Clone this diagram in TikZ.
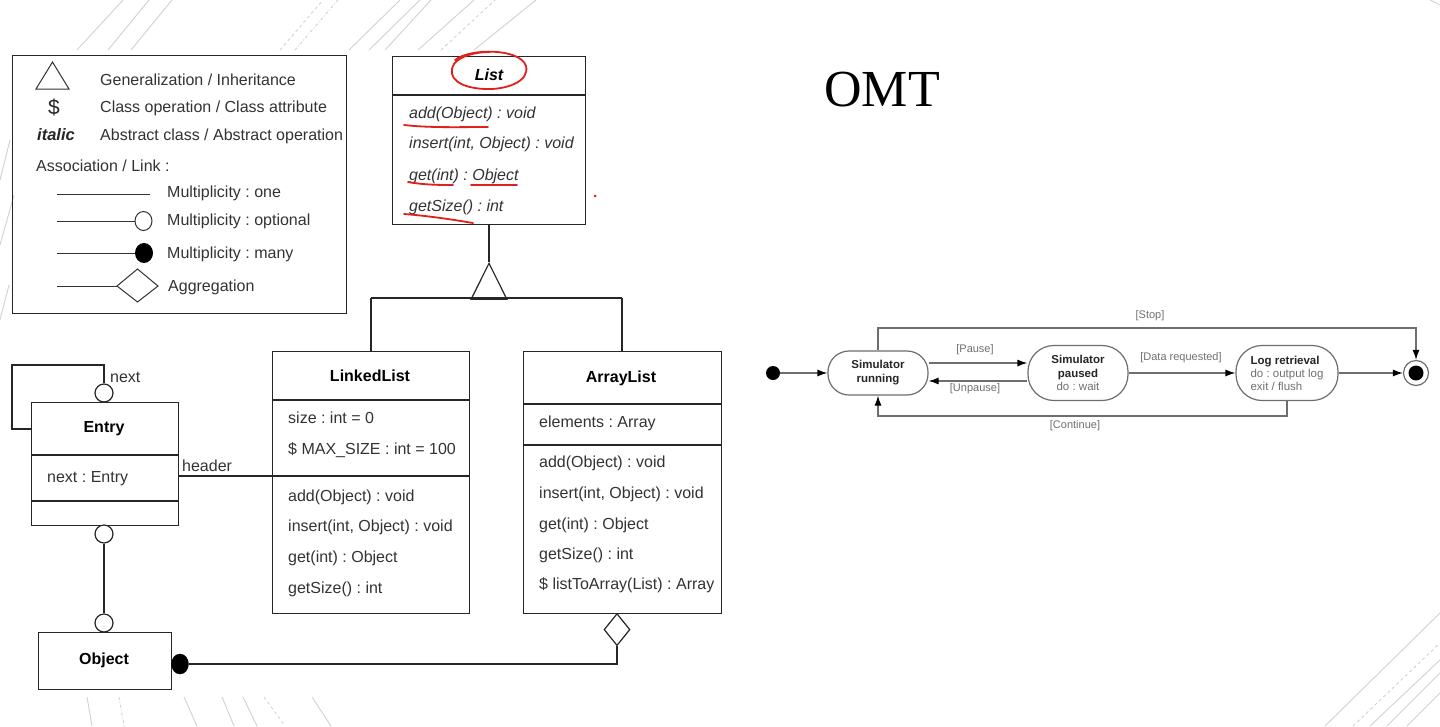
\documentclass[tikz,border=0pt]{standalone}
\usepackage{fontspec}
\setmainfont{Liberation Sans}
\newfontfamily\omtfont{Liberation Serif}
\usetikzlibrary{arrows.meta,shapes.geometric}
\definecolor{annot}{HTML}{E0201C}
\definecolor{stline}{HTML}{6E6E6E}
\definecolor{sttext}{HTML}{707070}
\frenchspacing
\begin{document}
\begin{tikzpicture}[x=1pt,y=-1pt,
  uml/.style={draw=black!85, line width=1.2pt},
  box/.style={draw=black!85, line width=1.2pt, inner sep=0pt, anchor=north west},
  txt/.style={anchor=base west, inner sep=0pt, font=\fontsize{16}{18}\selectfont, text=black!80},
  itxt/.style={txt, font=\fontsize{16}{18}\selectfont\itshape},
  cname/.style={anchor=center, inner sep=0pt, font=\fontsize{16}{18}\selectfont\bfseries, text=black},
  ocirc/.style={circle, draw=black!85, line width=1.2pt, fill=white, minimum size=18pt, inner sep=0pt},
  fcirc/.style={ellipse, draw=black, fill=black, minimum width=17pt, minimum height=20pt, inner sep=0pt},
  red/.style={draw=annot, line width=1.8pt, line cap=round},
  deco/.style={draw=black!18, line width=0.9pt},
  st/.style={draw=stline, line width=1.2pt},
  starr/.style={st, -{Latex[length=10pt,width=7pt,color=black]}},
  state/.style={draw=stline, line width=1.2pt, fill=white, inner sep=0pt, align=center,
     font=\fontsize{11.5}{14}\selectfont\bfseries, text=black!85},
  lbl/.style={inner sep=0pt, font=\fontsize{11}{13}\selectfont, text=sttext}
]
\useasboundingbox (0,0) rectangle (1440,726);
\fill[white] (0,0) rectangle (1440,726);

% ---------- decorative background lines ----------
\draw[deco] (77,50) -- (123,0);
\draw[deco] (108,50) -- (149,0);
\draw[deco] (131,50) -- (172,0);
\draw[deco, dashed] (280,50) -- (323,0);
\draw[deco, dash dot] (295,50) -- (338,0);
\draw[deco] (349,50) -- (400,0);
\draw[deco] (369,50) -- (420,0);
\draw[deco] (385,50) -- (431,0);
\draw[deco] (418,50) -- (474,0);
\draw[deco, dashed] (441,50) -- (495,0);
\draw[deco] (474,50) -- (536,0);
\draw[deco] (0,180) -- (10,140);
\draw[deco] (0,245) -- (14,195);
\draw[deco] (0,320) -- (9,285);
\draw[deco] (87,697) -- (92,726);
\draw[deco, dash dot] (119,697) -- (124,726);
\draw[deco] (184,697) -- (197,726);
\draw[deco] (222,697) -- (234,726);
\draw[deco] (243,697) -- (257,726);
\draw[deco, dashed] (264,697) -- (285,726);
\draw[deco] (312,697) -- (331,726);
\draw[deco] (1325,726) -- (1440,613);
\draw[deco, dashed] (1353,726) -- (1440,643);
\draw[deco] (1370,726) -- (1440,660);
\draw[deco] (1387,726) -- (1440,673);
\draw[deco] (1407,726) -- (1440,693);
\draw[deco] (1430,0) -- (1440,5);

% ---------- legend ----------
\node[box, minimum width=334pt, minimum height=258pt] (legend) at (12,55) {};
\draw[line width=1pt, draw=black!80] (36,89) -- (69,89) -- (52.5,62) -- cycle;
\node[inner sep=0pt, font=\fontsize{21}{24}\selectfont, text=black!85] (dollar) at (54,107) {\$};
\node[inner sep=0pt, font=\fontsize{16.5}{18}\selectfont\bfseries\itshape, text=black!85] (italic) at (56,135) {italic};
\node[txt] (lg1) at (100,85) {Generalization / Inheritance};
\node[txt] (lg2) at (100,112) {Class operation / Class attribute};
\node[txt] (lg3) at (100,140) {Abstract class / Abstract operation};
\node[txt] (lg4) at (36,171) {Association / Link :};
\node[txt] (lg5) at (167,197) {Multiplicity : one};
\node[txt] (lg6) at (167,225) {Multiplicity : optional};
\node[txt] (lg7) at (167,258) {Multiplicity : many};
\node[txt] (lg8) at (168,291) {Aggregation};
\draw[line width=1pt, draw=black!80] (57,194) -- (150,194);
\draw[line width=1pt, draw=black!80] (57,221) -- (135,221);
\draw[line width=1pt, draw=black!80, fill=white] (143.5,221) ellipse [x radius=8.5, y radius=9.5];
\draw[line width=1pt, draw=black!80] (57,253) -- (135,253);
\fill[black] (144,253) ellipse [x radius=9, y radius=10];
\draw[line width=1pt, draw=black!80] (57,286) -- (117,286);
\draw[line width=1pt, draw=black!80, fill=white] (117,286) -- (137.5,269) -- (158,286) -- (137.5,302) -- cycle;

% ---------- List (abstract) ----------
\node[box, minimum width=193pt, minimum height=168pt] (list) at (392,56) {};
\draw[uml] (392,95) -- (585,95);
\node[cname, font=\fontsize{16}{18}\selectfont\bfseries\itshape] (listname) at (489,75) {List};
\node[itxt] (l1) at (409,118) {add(Object) : void};
\node[itxt] (l2) at (409,148) {insert(int, Object) : void};
\node[itxt] (l3) at (409,180) {get(int) : Object};
\node[itxt] (l4) at (409,211) {getSize() : int};

% red annotations
\draw[red] (455,60) .. controls (470,48) and (520,48) .. (526,66) .. controls (530,82) and (505,90) .. (485,89) .. controls (460,88) and (446,78) .. (454,64) .. controls (460,56) and (475,52) .. (490,52);
\draw[red] (404,125) .. controls (430,128) and (460,127) .. (488,127);
\draw[red] (408,182) .. controls (425,185) and (440,185) .. (453,185);
\draw[red] (471,185) -- (517,185);
\draw[red] (404,214) .. controls (430,216) and (455,220) .. (473,223);
\fill[annot] (595,196) circle [radius=1.5];

% ---------- generalization ----------
\node[isosceles triangle, isosceles triangle apex angle=53, shape border rotate=90, draw=black!85, line width=1.2pt, fill=white, inner sep=0pt, minimum height=36pt, anchor=apex] (gen) at (489,262) {};
\draw[uml] (list.south -| gen.apex) -- (gen.apex);
\coordinate (genL) at (371,298);
\coordinate (genR) at (622,298);
\draw[uml] (genL) -- (genR);

% ---------- LinkedList ----------
\node[box, minimum width=197pt, minimum height=262pt] (ll) at (272,351) {};
\draw[uml] (272,400) -- (469,400);
\draw[uml] (272,476) -- (469,476);
\node[cname] (llname) at (370,376) {LinkedList};
\node[txt] (ll1) at (288,423) {size : int = 0};
\node[txt] (ll2) at (288,454) {\$ MAX\_SIZE : int = 100};
\node[txt] (ll3) at (288,501) {add(Object) : void};
\node[txt] (ll4) at (288,531) {insert(int, Object) : void};
\node[txt] (ll5) at (288,562) {get(int) : Object};
\node[txt] (ll6) at (288,593) {getSize() : int};
\draw[uml] (genL) -- (genL |- ll.north);

% ---------- ArrayList ----------
\node[box, minimum width=198pt, minimum height=262pt] (al) at (523,351) {};
\draw[uml] (523,404) -- (721,404);
\draw[uml] (523,445) -- (721,445);
\node[cname] (alname) at (621,378) {ArrayList};
\node[txt] (al1) at (539,427) {elements : Array};
\node[txt] (al2) at (539,467) {add(Object) : void};
\node[txt] (al3) at (539,498) {insert(int, Object) : void};
\node[txt] (al4) at (539,529) {get(int) : Object};
\node[txt] (al5) at (539,559) {getSize() : int};
\node[txt] (al6) at (539,589) {\$ listToArray(List) : Array};
\draw[uml] (genR) -- (genR |- al.north);

% ---------- Entry ----------
\node[box, minimum width=147pt, minimum height=123pt] (entry) at (31,402) {};
\draw[uml] (31,455) -- (178,455);
\draw[uml] (31,501) -- (178,501);
\node[cname] (entryname) at (104,429) {Entry};
\node[txt] (en1) at (47,482) {next : Entry};
\node[ocirc] (ctop) at (104,393) {};
\coordinate (lp1) at (104,365);
\coordinate (lp2) at (12,365);
\coordinate (lp3) at (12,429);
\draw[uml] (ctop.north) -- (lp1) -- (lp2) -- (lp3) -- (lp3 -| entry.west);
\node[txt] (nextlbl) at (110,382) {next};

% header association
\draw[uml] (entry.east |- 0,476) -- (ll.west |- 0,476);
\node[txt] (hdr) at (182,471) {header};

% ---------- Object ----------
\node[box, minimum width=133pt, minimum height=57pt] (obj) at (38,632) {};
\node[cname] (objname) at (104,660) {Object};
\node[ocirc] (cbot1) at (104,534) {};
\node[ocirc] (cbot2) at (104,623) {};
\draw[uml] (cbot1.south) -- (cbot2.north);
\node[fcirc] (many) at (180,664) {};
\node[diamond, draw=black!85, line width=1.2pt, fill=white, inner sep=0pt, minimum width=26pt, minimum height=32pt, anchor=north] (agg) at (617,613) {};
\coordinate (aggc) at (617,664);
\draw[uml] (many.east) -- (aggc) -- (agg.south);

% ---------- OMT title ----------
\node[inner sep=0pt, font=\omtfont\fontsize{52}{56}\selectfont, text=black] (omt) at (882,90) {OMT};

% ---------- state diagram ----------
\fill[black] (773,373) circle [radius=7];
\coordinate (init) at (780,373);
\node[state, minimum width=100pt, minimum height=44pt, rounded corners=21pt] (run) at (878,373) {Simulator\\running};
\node[state, minimum width=100pt, minimum height=55pt, rounded corners=26pt] (pau) at (1078,373) {Simulator\\paused\\[-1pt]{\mdseries\color{sttext}do : wait}};
\node[state, minimum width=102pt, minimum height=55pt, rounded corners=26pt, align=left] (logr) at (1287,373) {Log retrieval\\[-1pt]{\mdseries\color{sttext}do : output log}\\[-1pt]{\mdseries\color{sttext}exit / flush}};
\node[circle, draw=stline, line width=1.2pt, minimum size=25pt, inner sep=0pt] (fin) at (1416,373) {};
\fill[black] (fin.center) circle [radius=7.5];

\draw[starr] (init) -- (run.west);
\coordinate (pY) at (0,363);
\coordinate (uY) at (0,381);
\draw[starr] (run.east |- pY) -- (pau.west |- pY);
\draw[starr] (pau.west |- uY) -- (run.east |- uY);
\draw[starr] (pau.east) -- (logr.west);
\draw[starr] (logr.east) -- (fin.west);
\coordinate (stop1) at (878,328);
\coordinate (stop2) at (1416,328);
\draw[starr] (run.north) -- (stop1) -- (stop2) -- (fin.north);
\coordinate (cont1) at (1287,416);
\coordinate (cont2) at (878,416);
\draw[starr] (logr.south) -- (cont1) -- (cont2) -- (run.south);

\node[lbl] (lstop) at (1150,316) {[Stop]};
\node[lbl] (lpause) at (975,350) {[Pause]};
\node[lbl] (lunp) at (975,389) {[Unpause]};
\node[lbl] (ldata) at (1181,358) {[Data requested]};
\node[lbl] (lcont) at (1075,426) {[Continue]};
\end{tikzpicture}
\end{document}
